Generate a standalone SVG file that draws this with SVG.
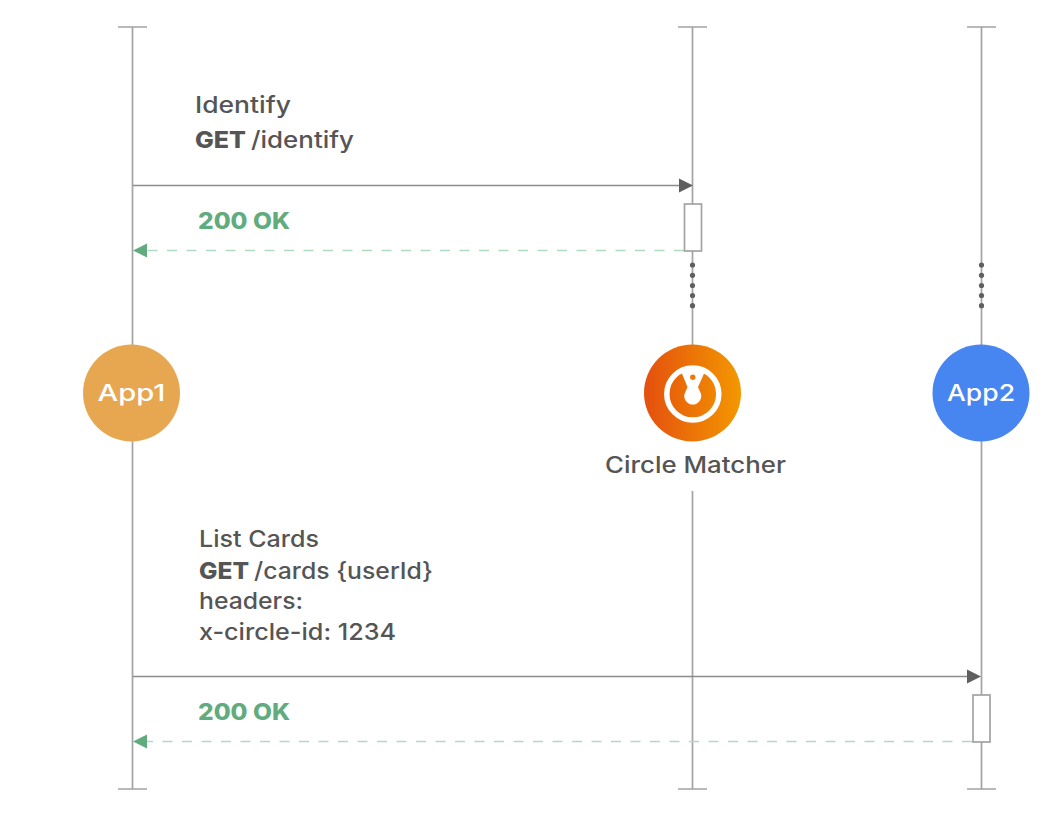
<svg xmlns="http://www.w3.org/2000/svg" width="1063" height="827" viewBox="0 0 1063 827">
<style>
.life{stroke:#a3a3a3;stroke-width:1.7;fill:none}
.call{stroke:#8c8c8c;stroke-width:1.7;fill:none}
.ret{stroke:#b0dac2;stroke-width:1.7;fill:none;stroke-dasharray:10 9.500}
.box{stroke:#a3a3a3;stroke-width:1.7;fill:#fff}
.dots{fill:#5f5f5f}
text{font-family:"Inter","Open Sans","Liberation Sans",sans-serif;font-size:23px;fill:#555;font-weight:500}
.b{font-weight:800}
.ok{font-weight:800;fill:#62ab7f}
.w{fill:#fff;text-anchor:middle}
</style>
<defs>
<linearGradient id="g" x1="0" x2="1" y1="0" y2="0"><stop offset="0" stop-color="#e4500e"/><stop offset="1" stop-color="#f39800"/></linearGradient>
</defs>
<rect width="1063" height="827" fill="#fff"/>
<g id="connectors">
<path class="life" d="M118 27H147M132.500 27V345M132.500 441V789M118 789H147"/>
<path class="life" d="M678 27H707M692.500 27V345M692.500 491V789M678 789H707"/>
<path class="life" d="M967 27H996M981.500 27V345M981.500 441V789M967 789H996"/>
<path class="call" d="M133 185.500H680"/><path fill="#5f5f5f" d="M679 178.500L693 185.500L679 192.500Z"/>
<path class="ret" d="M684 250.500H146"/><path fill="#62ab7f" d="M147 243.500L133 250.500L147 257.500Z"/>
<path class="call" d="M133 676.500H969"/><path fill="#5f5f5f" d="M967 669.500L981 676.500L967 683.500Z"/>
<path class="ret" d="M972 741.500H146"/><path fill="#62ab7f" d="M147 734.500L133 741.500L147 748.500Z"/>
<g class="dots"><circle cx="692.500" cy="265" r="2.600"/><circle cx="692.500" cy="275.300" r="2.600"/><circle cx="692.500" cy="285.500" r="2.600"/><circle cx="692.500" cy="295.500" r="2.600"/><circle cx="692.500" cy="305.700" r="2.600"/>
<circle cx="981.500" cy="265" r="2.600"/><circle cx="981.500" cy="275.300" r="2.600"/><circle cx="981.500" cy="285.500" r="2.600"/><circle cx="981.500" cy="295.500" r="2.600"/><circle cx="981.500" cy="305.700" r="2.600"/></g>
</g>
<g id="activation-matcher"><rect class="box" x="684.500" y="204" width="17" height="47"/></g>
<g id="activation-app2"><rect class="box" x="973" y="695" width="17" height="47"/></g>
<g id="app1"><circle cx="131.500" cy="393" r="48.500" fill="#e7a750"/><text class="w" x="131.500" y="401" textLength="68" lengthAdjust="spacingAndGlyphs">App1</text></g>
<g id="app2"><circle cx="981" cy="393" r="48.500" fill="#4785f1"/><text class="w" x="981" y="401" textLength="68" lengthAdjust="spacingAndGlyphs">App2</text></g>
<g id="circle-matcher">
<circle cx="692.500" cy="393" r="48.500" fill="url(#g)"/>
<circle cx="692.800" cy="394" r="26" fill="none" stroke="#fff" stroke-width="5.500"/>
<path fill="#fff" d="M681.500 372.500Q692.800 365 704.500 372.500L698 387L701 394A8.500 8.500 0 1 1 684.500 394L687.500 387Z"/>
<circle cx="692.800" cy="377.300" r="2.700" fill="#ec7a08"/>
<text x="605" y="473" textLength="181" lengthAdjust="spacingAndGlyphs">Circle Matcher</text>
</g>
<g id="label-identify">
<text x="195" y="113" textLength="96" lengthAdjust="spacingAndGlyphs">Identify</text>
<text x="195" y="147.500" class="b" textLength="51" lengthAdjust="spacingAndGlyphs">GET</text>
<text x="251" y="147.500" textLength="103" lengthAdjust="spacingAndGlyphs">/identify</text>
</g>
<text id="ok1" class="ok" x="198" y="229" textLength="92" lengthAdjust="spacingAndGlyphs">200 OK</text>
<g id="label-cards">
<text x="199" y="547" textLength="120" lengthAdjust="spacingAndGlyphs">List Cards</text>
<text x="199" y="578.500" class="b" textLength="50" lengthAdjust="spacingAndGlyphs">GET</text>
<text x="254" y="578.500" textLength="179" lengthAdjust="spacingAndGlyphs">/cards {userId}</text>
<text x="199" y="609" textLength="104" lengthAdjust="spacingAndGlyphs">headers:</text>
<text x="199" y="640" textLength="197" lengthAdjust="spacingAndGlyphs">x-circle-id: 1234</text>
</g>
<text id="ok2" class="ok" x="198" y="720" textLength="92" lengthAdjust="spacingAndGlyphs">200 OK</text>
</svg>
